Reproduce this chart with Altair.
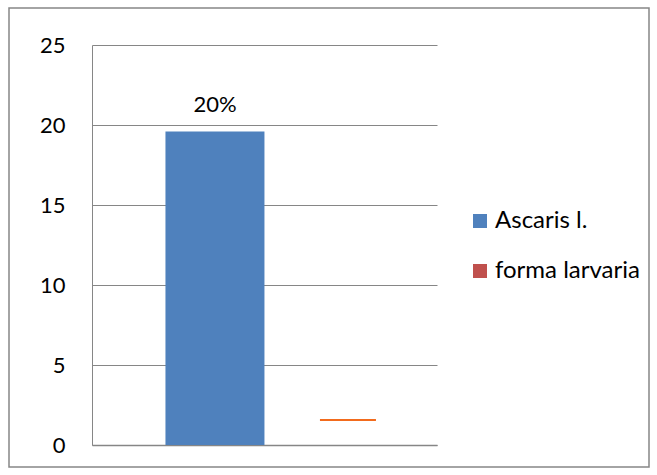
import altair as alt
import pandas as pd

series = ["Ascaris l.", "forma larvaria"]
values = [19.6, 1.56]
labels = ["20%", ""]
legend_colors = ["#4F81BD", "#C0504D"]

df = pd.DataFrame({"serie": series, "valor": values, "etiqueta": labels})

FONT = "Lato"
GRAY = "#868686"

xscale = alt.Scale(domain=series, paddingInner=0.256, paddingOuter=0.425, align=0.65)
x = alt.X("serie:N", scale=xscale,
          axis=alt.Axis(labels=False, ticks=False, title=None, domain=True,
                        domainColor=GRAY, domainWidth=1.5, grid=False))
y = alt.Y("valor:Q", scale=alt.Scale(domain=[0, 25], nice=False),
          axis=alt.Axis(values=[0, 5, 10, 15, 20, 25], grid=True, gridColor=GRAY,
                        ticks=False, domain=True, domainColor=GRAY, title=None,
                        labelFont=FONT, labelFontSize=22, labelColor="black",
                        labelPadding=27))

base = alt.Chart(df)

bars = base.transform_filter(alt.datum.serie == series[0]).mark_bar(size=99).encode(
    x=x, y=y,
    color=alt.Color("serie:N", scale=alt.Scale(domain=series, range=legend_colors),
                    legend=alt.Legend(title=None, orient="none", legendX=376, legendY=164,
                                      symbolType="square", symbolSize=196,
                                      symbolStrokeWidth=0,
                                      labelFont=FONT, labelFontSize=24,
                                      labelColor="black", rowPadding=26,
                                      labelOffset=3)),
)

text = base.transform_filter(alt.datum.serie == series[0]).mark_text(
    baseline="alphabetic", dy=-19, font=FONT, fontSize=22, color="black"
).encode(x=x, y=y, text="etiqueta:N")

tick = base.transform_filter(alt.datum.serie == series[1]).mark_tick(
    size=56, thickness=2, color="#F26B1D", opacity=1
).encode(x=x, y=y)

border = alt.Chart(alt.Data(values=[{}])).mark_rect(
    filled=False, stroke=GRAY, strokeWidth=1.5, clip=False
).encode(x=alt.value(-83), x2=alt.value(557), y=alt.value(-37), y2=alt.value(422))

chart = alt.layer(bars, text, tick, border).properties(
    width=345, height=400,
    padding={"left": 92, "top": 45, "right": 220, "bottom": 30},
    autosize=alt.AutoSizeParams(type="none"),
    background="white",
).configure_view(stroke=None)

chart.save("out.html", embed_options={"renderer": "svg", "actions": False})
